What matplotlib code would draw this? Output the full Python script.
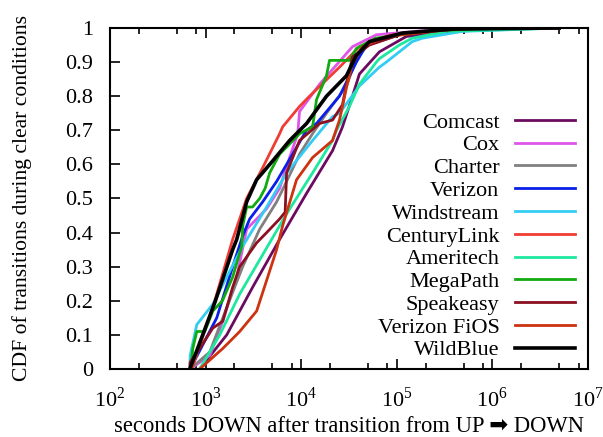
import numpy as np
import matplotlib
matplotlib.use("Agg")
from matplotlib import pyplot as plt

plt.rcParams['font.family'] = ['Liberation Serif', 'DejaVu Sans']
plt.rcParams['mathtext.fontset'] = 'custom'
plt.rcParams['mathtext.rm'] = 'Liberation Serif'
plt.rcParams['font.size'] = 16

# seconds DOWN (x) and CDF (y)
comcast_x = [869, 1664, 3110, 5952, 11380, 21270, 27060, 34400, 40700, 65830, 125800, 500000, 5000000]
comcast_y = [0, 0.10, 0.24, 0.38, 0.515, 0.64, 0.71, 0.80, 0.865, 0.93, 0.975, 0.995, 1.0]

cox_x = [690, 1107, 1512, 2118, 2690, 4353, 5952, 7570, 9200, 9620, 15570, 34400, 61240, 300000, 5000000]
cox_y = [0, 0.04, 0.14, 0.27, 0.41, 0.47, 0.53, 0.62, 0.69, 0.755, 0.835, 0.945, 0.98, 0.997, 1.0]

charter_x = [690, 1107, 1664, 2445, 3679, 5535, 7041, 9620, 13160, 18410, 29770, 37850, 50000, 120000, 500000, 5000000]
charter_y = [0, 0.05, 0.18, 0.30, 0.41, 0.49, 0.55, 0.63, 0.69, 0.75, 0.83, 0.91, 0.95, 0.985, 0.998, 1.0]

verizon_x = [690, 1309, 1920, 2445, 2893, 3955, 5535, 8140, 11380, 14480, 25170, 37850, 48150, 120000, 500000, 5000000]
verizon_y = [0, 0.15, 0.30, 0.39, 0.44, 0.49, 0.55, 0.63, 0.70, 0.72, 0.80, 0.90, 0.95, 0.985, 0.998, 1.0]

windstream_x = [685, 690, 809, 1190, 1664, 2445, 4353, 7041, 13160, 21270, 25170, 40700, 65830, 77850, 106400, 145400, 185000, 484000, 5000000]
windstream_y = [0, 0.04, 0.13, 0.19, 0.27, 0.36, 0.475, 0.575, 0.67, 0.74, 0.75, 0.83, 0.885, 0.90, 0.93, 0.96, 0.97, 0.99, 1.0]

centurylink_x = [718, 1190, 1920, 2690, 3955, 5952, 6400, 9620, 12240, 25170, 40700, 89910, 400000, 5000000]
centurylink_y = [0, 0.18, 0.38, 0.50, 0.59, 0.69, 0.71, 0.77, 0.80, 0.885, 0.945, 0.98, 0.997, 1.0]

ameritech_x = [869, 1406, 2277, 3679, 7041, 13160, 21270, 23400, 32000, 40700, 61240, 65830, 106400, 145400, 329000, 5000000]
ameritech_y = [0, 0.10, 0.22, 0.32, 0.455, 0.575, 0.67, 0.70, 0.77, 0.835, 0.90, 0.91, 0.95, 0.97, 0.99, 1.0]

megapath_x = [700, 735, 809, 981, 1190, 1500, 1922, 2388, 2450, 2690, 3100, 3679, 4200, 4680, 5952, 7000, 9623, 13160, 14480, 18410, 19790, 32000, 37850, 60000, 200000, 1000000]
megapath_y = [0, 0.06, 0.11, 0.11, 0.17, 0.20, 0.27, 0.36, 0.42, 0.475, 0.475, 0.50, 0.53, 0.575, 0.63, 0.65, 0.69, 0.71, 0.79, 0.86, 0.905, 0.905, 0.94, 0.97, 0.99, 1.0]

speakeasy_x = [685, 690, 869, 1190, 1512, 1922, 2277, 3422, 4353, 5952, 6800, 7041, 9623, 15570, 21270, 27060, 29770, 34400, 51760, 120000, 500000, 5000000]
speakeasy_y = [0, 0.02, 0.06, 0.12, 0.14, 0.24, 0.30, 0.37, 0.40, 0.44, 0.46, 0.575, 0.67, 0.72, 0.73, 0.775, 0.835, 0.915, 0.95, 0.985, 0.998, 1.0]

fios_x = [869, 1512, 2277, 3422, 4353, 5535, 6400, 8950, 13160, 21270, 25170, 27060, 29770, 34400, 43770, 77850, 400000, 5000000]
fios_y = [0, 0.06, 0.11, 0.17, 0.26, 0.35, 0.42, 0.555, 0.62, 0.67, 0.73, 0.77, 0.825, 0.895, 0.945, 0.975, 0.997, 1.0]

wildblue_x = [685, 1250, 1920, 2118, 2690, 3422, 5030, 7570, 11400, 18410, 29770, 37850, 51760, 114400, 400000, 5000000]
wildblue_y = [0, 0.195, 0.35, 0.38, 0.49, 0.555, 0.61, 0.67, 0.72, 0.80, 0.86, 0.92, 0.96, 0.985, 0.997, 1.0]

names = ['Comcast', 'Cox', 'Charter', 'Verizon', 'Windstream', 'CenturyLink',
         'Ameritech', 'MegaPath', 'Speakeasy', 'Verizon FiOS', 'WildBlue']
series = [(comcast_x, comcast_y), (cox_x, cox_y), (charter_x, charter_y),
          (verizon_x, verizon_y), (windstream_x, windstream_y),
          (centurylink_x, centurylink_y), (ameritech_x, ameritech_y),
          (megapath_x, megapath_y), (speakeasy_x, speakeasy_y),
          (fios_x, fios_y), (wildblue_x, wildblue_y)]
colors = ['#6b0a60', '#e055e8', '#808080', '#0a1fe8', '#33ccf5', '#f03c32',
          '#1de8a0', '#11aa11', '#8b1020', '#cc3311', '#000000']

fig = plt.figure(figsize=(6.03, 4.37), dpi=100)
ax = fig.add_axes([0.1824, 0.1556, 0.7926, 0.7804])

for name, (xs, ys), c in zip(names, series, colors):
    lw = 2.6 if name == 'WildBlue' else 2.0
    ax.plot(xs, ys, color=c, lw=lw, label=name)

ax.set_xscale('log')
ax.set_xlim(1e2, 1e7)
ax.set_ylim(0, 1)

majors = [10.0 ** k for k in range(2, 8)]
ax.set_xticks(majors)
ax.set_xticklabels([r'$10^{%d}$' % k for k in range(2, 8)])
minors = [m * 10.0 ** k for k in range(2, 7) for m in (2, 5, 8)]
ax.set_xticks(minors, minor=True)
ax.set_yticks(np.arange(0, 1.01, 0.1))
ax.set_yticklabels(['0'] + ['%.1f' % v for v in np.arange(0.1, 0.95, 0.1)] + ['1'])

ax.tick_params(which='both', direction='in', top=True, right=False, width=1.2)
ax.tick_params(axis='x', which='major', length=7, pad=13)
ax.tick_params(axis='y', which='major', length=7, pad=12)
ax.tick_params(which='minor', length=4)
for s in ax.spines.values():
    s.set_linewidth(1.5)

ax.set_xlabel('seconds DOWN after transition from UP \u27a1 DOWN', labelpad=3,
              fontsize=16.3)
ax.set_ylabel('CDF of transitions during clear conditions', labelpad=24,
              fontsize=15.6)

ax.legend(loc='lower right', bbox_to_anchor=(0.973, 0.025), frameon=False,
          markerfirst=False, handlelength=2.7, handletextpad=0.7,
          labelspacing=0.1, borderpad=0, borderaxespad=0)

fig.savefig('out.png', dpi=100)
